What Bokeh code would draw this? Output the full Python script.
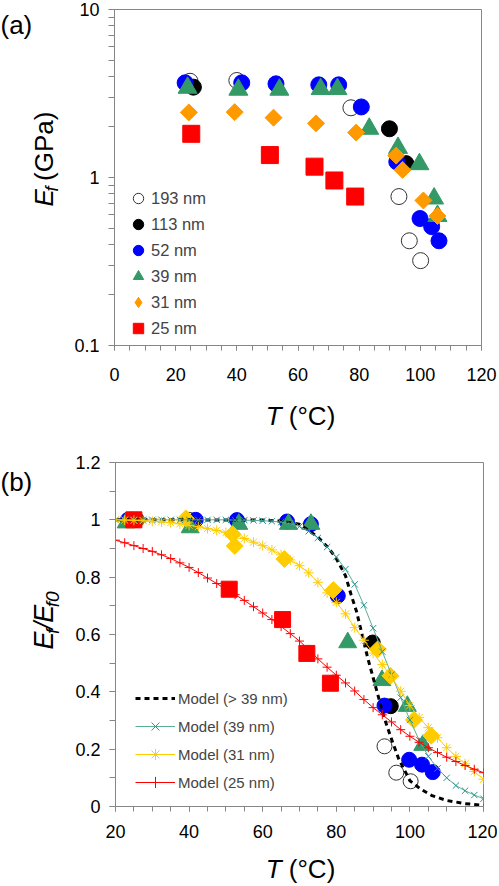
import math
from bokeh.plotting import figure
from bokeh.models import (Range1d, FixedTicker, CustomJSTickFormatter, Label,
                          Legend, LegendItem)
from bokeh.layouts import column, row
from bokeh.embed import file_html
from bokeh.resources import INLINE

# ---------------- data: panel (a) ----------------
series_labels = ["193 nm", "113 nm", "52 nm", "39 nm", "31 nm", "25 nm"]

T_193 = [24.7, 40.0, 77.3, 93.0, 96.4, 100.1]
E_193 = [3.74, 3.78, 2.60, 0.77, 0.42, 0.32]
T_113 = [25.8, 89.9, 95.3]
E_113 = [3.45, 1.95, 1.21]
T_52 = [23.1, 41.6, 52.8, 66.8, 73.3, 80.7, 92.3, 99.9, 103.7, 106.1]
E_52 = [3.66, 3.66, 3.61, 3.56, 3.56, 2.63, 1.24, 0.57, 0.51, 0.42]
T_39 = [23.9, 40.5, 53.9, 67.4, 72.9, 83.3, 92.7, 99.7, 104.5, 105.6]
E_39 = [3.42, 3.33, 3.33, 3.36, 3.36, 1.95, 1.50, 1.20, 0.75, 0.59]
T_31 = [24.3, 39.3, 52.0, 65.9, 79.0, 92.1, 94.2, 101.0, 105.6]
E_31 = [2.44, 2.45, 2.27, 2.10, 1.85, 1.35, 1.11, 0.73, 0.59]
T_25 = [25.1, 50.8, 65.4, 71.9, 78.7]
E_25 = [1.82, 1.36, 1.16, 0.96, 0.77]

# ---------------- data: panel (b) ----------------
Tb_193 = [24.7, 40.0, 93.1, 96.3, 100.2]
Rb_193 = [1.0, 1.0, 0.21, 0.118, 0.088]
Tb_113 = [25.8, 89.9, 94.8]
Rb_113 = [1.0, 0.572, 0.35]
Tb_52 = [23.4, 41.8, 53.0, 66.6, 73.1, 80.4, 93.1, 99.8, 103.3, 106.2]
Rb_52 = [1.0, 1.0, 0.999, 0.994, 0.985, 0.735, 0.352, 0.163, 0.146, 0.12]
Tb_39 = [22.9, 40.3, 53.5, 67.0, 73.1, 83.1, 92.4, 99.3, 103.5]
Rb_39 = [0.99, 0.973, 0.985, 0.985, 0.985, 0.572, 0.44, 0.35, 0.214]
Tb_31 = [24.3, 39.1, 51.8, 52.4, 65.9, 79.2, 91.3, 94.7, 101.1, 105.8]
Rb_31 = [1.0, 1.005, 0.95, 0.909, 0.863, 0.755, 0.549, 0.456, 0.302, 0.247]
Tb_25 = [25.0, 50.9, 65.4, 72.0, 78.4]
Rb_25 = [1.0, 0.758, 0.652, 0.534, 0.43]

model_labels = ["Model (> 39 nm)", "Model (39 nm)", "Model (31 nm)", "Model (25 nm)"]

T_dash = [20, 40, 60, 65, 70, 75, 78, 80, 82.5, 84, 85.5, 87, 88.5, 90, 91.5,
          93, 95, 97, 100, 103, 106, 110, 115, 120]
model_gt39 = [1.0, 1.0, 0.999, 0.995, 0.985, 0.94, 0.90, 0.865, 0.805, 0.74,
              0.68, 0.60, 0.52, 0.45, 0.38, 0.31, 0.235, 0.165, 0.09, 0.06,
              0.038, 0.021, 0.01, 0.004]

T_model = [20, 22.5, 25, 27.5, 30, 32.5, 35, 37.5, 40, 42.5, 45, 47.5, 50, 52.5,
           55, 57.5, 60, 62.5, 65, 67.5, 70, 72.5, 75, 77.5, 80, 82.5, 85, 87.5,
           90, 92.5, 95, 97.5, 100, 102.5, 105, 107.5, 110, 112.5, 115, 117.5, 120]
model_39 = [1.0, 1.0, 1.0, 1.0, 1.0, 1.0, 1.0, 1.0, 1.0, 1.0, 1.0, 1.0, 1.0, 0.999,
            0.999, 0.998, 0.997, 0.995, 0.992, 0.986, 0.977, 0.96, 0.937, 0.905,
            0.87, 0.828, 0.775, 0.702, 0.622, 0.54, 0.46, 0.38, 0.302, 0.232,
            0.175, 0.133, 0.1, 0.073, 0.055, 0.04, 0.027]
model_31 = [1.0, 0.999, 0.998, 0.997, 0.995, 0.993, 0.99, 0.986, 0.981, 0.976,
            0.97, 0.963, 0.955, 0.946, 0.935, 0.922, 0.91, 0.895, 0.878, 0.86,
            0.84, 0.815, 0.782, 0.745, 0.712, 0.672, 0.624, 0.58, 0.535, 0.495,
            0.452, 0.402, 0.352, 0.31, 0.275, 0.24, 0.205, 0.175, 0.149, 0.122,
            0.095]
model_25 = [0.929, 0.92, 0.91, 0.9, 0.89, 0.878, 0.865, 0.85, 0.834, 0.816,
            0.797, 0.778, 0.758, 0.739, 0.719, 0.697, 0.675, 0.652, 0.628, 0.603,
            0.577, 0.548, 0.515, 0.486, 0.458, 0.431, 0.403, 0.373, 0.345, 0.32,
            0.295, 0.268, 0.245, 0.224, 0.205, 0.188, 0.172, 0.157, 0.143, 0.13,
            0.118]

# ---------------- ticks ----------------
xa_ticks = [0, 20, 40, 60, 80, 100, 120]
xa_labels = ["0", "20", "40", "60", "80", "100", "120"]
xa_minor = [0, 5, 10, 15, 20, 25, 30, 35, 40, 45, 50, 55, 60, 65, 70, 75, 80,
            85, 90, 95, 100, 105, 110, 115, 120]
ya_ticks = [0.1, 1, 10]
ya_labels = ["0.1", "1", "10"]
ya_minor = [0.2, 0.3, 0.4, 0.5, 0.6, 0.7, 0.8, 0.9, 2, 3, 4, 5, 6, 7, 8, 9]
xb_ticks = [20, 40, 60, 80, 100, 120]
xb_labels = ["20", "40", "60", "80", "100", "120"]
xb_minor = [20, 25, 30, 35, 40, 45, 50, 55, 60, 65, 70, 75, 80, 85, 90, 95,
            100, 105, 110, 115, 120]
yb_ticks = [0, 0.2, 0.4, 0.6, 0.8, 1.0, 1.2]
yb_labels = ["0", "0.2", "0.4", "0.6", "0.8", "1", "1.2"]
yb_minor = [0, 0.1, 0.2, 0.3, 0.4, 0.5, 0.6, 0.7, 0.8, 0.9, 1.0, 1.1, 1.2]

FONT = "Liberation Sans"
AX = "#868686"
C_OPEN = "#333333"
C_BLACK = "#000000"
C_BLUE = "#0000FF"
C_GREEN = "#339966"
C_ORANGE = "#FF9900"
C_GOLD = "#FFCC00"
C_RED = "#FF0000"
C_TEAL_LINE = "#5aae92"
C_TEAL_MARK = "#2a9595"

W_TOTAL = 497
W_LEFT = 66


def fmt(vals, texts):
    return CustomJSTickFormatter(args=dict(tv=vals, tt=texts), code="""
const i = tv.findIndex(t => Math.abs(t - tick) <= 1e-9 * Math.max(1, Math.abs(t)));
return i >= 0 ? tt[i] : "";
""")


def style_axes(p, xt, xl, xm, yt, yl, ym, xstand, ystand):
    p.title.visible = False
    p.grid.grid_line_color = None
    p.outline_line_color = AX
    p.outline_line_width = 1
    for ax in (p.xaxis[0], p.yaxis[0]):
        ax.axis_line_color = AX
        ax.major_tick_line_color = AX
        ax.minor_tick_line_color = AX
        ax.major_tick_in = 0
        ax.minor_tick_in = 0
        ax.major_label_text_font = FONT
        ax.major_label_text_font_size = "18px"
        ax.major_label_text_color = "black"
    p.xaxis[0].ticker = FixedTicker(ticks=xt, minor_ticks=xm)
    p.xaxis[0].formatter = fmt(xt, xl)
    p.xaxis[0].major_tick_out = 5
    p.xaxis[0].minor_tick_out = 5
    p.xaxis[0].major_label_standoff = xstand
    p.yaxis[0].ticker = FixedTicker(ticks=yt, minor_ticks=ym)
    p.yaxis[0].formatter = fmt(yt, yl)
    p.yaxis[0].major_tick_out = 6
    p.yaxis[0].minor_tick_out = 6
    p.yaxis[0].major_label_standoff = ystand


def text_fig(w, h):
    f = figure(width=w, height=h, x_range=Range1d(0, w), y_range=Range1d(0, h),
               x_axis_location=None, y_axis_location=None,
               output_backend="svg", toolbar_location=None, min_border=0)
    f.title.visible = False
    f.outline_line_color = None
    f.grid.visible = False
    return f


def lab(p, x, y, text, size, italic=False, angle=0.0, baseline="middle"):
    p.add_layout(Label(x=x, y=y, text=text, angle=angle, text_font=FONT,
                       text_font_size=size,
                       text_font_style="italic" if italic else "normal",
                       text_color="black", text_align="left",
                       text_baseline=baseline))


# ================= panel (a) =================
HA = 389
pa = figure(width=W_TOTAL - W_LEFT, height=HA, x_range=Range1d(0, 120),
            y_range=Range1d(0.1, 10), y_axis_type="log",
            output_backend="svg", toolbar_location=None,
            min_border_left=114 - W_LEFT, min_border_right=16,
            min_border_top=9, min_border_bottom=44)
style_axes(pa, xa_ticks, xa_labels, xa_minor, ya_ticks, ya_labels, ya_minor, 17, 9)

ra = []
ra.append(pa.scatter(T_193, E_193, marker="circle", size=16, fill_color="white",
                     line_color=C_OPEN, line_width=1))
ra.append(pa.scatter(T_113, E_113, marker="circle", size=16, fill_color=C_BLACK,
                     line_color=C_BLACK))
ra.append(pa.scatter(T_52, E_52, marker="circle", size=16, fill_color=C_BLUE,
                     line_color=C_BLUE))
ra.append(pa.scatter(T_39, E_39, marker="triangle", size=19, fill_color=C_GREEN,
                     line_color=C_GREEN))
ra.append(pa.scatter(T_31, E_31, marker="square", size=12, angle=math.pi / 4,
                     fill_color=C_ORANGE, line_color=C_ORANGE))
ra.append(pa.scatter(T_25, E_25, marker="square", size=17, fill_color=C_RED,
                     line_color=C_RED))
# legend swatch for the rotated squares (legend glyphs ignore the angle)
diamond_key = pa.scatter([float("nan")], [float("nan")], marker="diamond", size=16,
                         fill_color=C_ORANGE, line_color=C_ORANGE)
leg_renderers = ra[:4] + [diamond_key, ra[5]]

leg_a = Legend(items=[LegendItem(label=l, renderers=[r])
                      for l, r in zip(series_labels, leg_renderers)],
               location=(11, 4), orientation="vertical", glyph_width=26,
               glyph_height=26, label_height=26, spacing=0, padding=0, margin=0,
               label_standoff=0, border_line_alpha=0, background_fill_alpha=0,
               label_text_font=FONT, label_text_font_size="16.5px",
               label_text_baseline="middle")
pa.add_layout(leg_a)

ya_fig = text_fig(W_LEFT, HA)
lab(ya_fig, 0, HA, "(a)", "26px", baseline="top")
lab(ya_fig, 43, 161, "E", "26px", italic=True, angle=math.pi / 2)
lab(ya_fig, 51.6, 178.3, "f", "18px", italic=True, angle=math.pi / 2)
lab(ya_fig, 43, 190.5, "(GPa)", "26px", angle=math.pi / 2)

xa_fig = text_fig(W_TOTAL, 56)
lab(xa_fig, 265.2, 30, "T", "26px", italic=True)
lab(xa_fig, 288.3, 30, "(°C)", "26px")

# ================= panel (b) =================
HB = 397
pb = figure(width=W_TOTAL - W_LEFT, height=HB, x_range=Range1d(20, 120),
            y_range=Range1d(0, 1.2), output_backend="svg",
            toolbar_location=None,
            min_border_left=115 - W_LEFT, min_border_right=14,
            min_border_top=17, min_border_bottom=36)
style_axes(pb, xb_ticks, xb_labels, xb_minor, yb_ticks, yb_labels, yb_minor, 13, 9)

pb.scatter(Tb_193, Rb_193, marker="circle", size=15, fill_color="white",
           line_color=C_OPEN, line_width=1)
pb.scatter(Tb_113, Rb_113, marker="circle", size=15, fill_color=C_BLACK,
           line_color=C_BLACK)
pb.scatter(Tb_52, Rb_52, marker="circle", size=15, fill_color=C_BLUE,
           line_color=C_BLUE)
pb.scatter(Tb_39, Rb_39, marker="triangle", size=18, fill_color=C_GREEN,
           line_color=C_GREEN)
pb.scatter(Tb_31, Rb_31, marker="square", size=12, angle=math.pi / 4,
           fill_color=C_GOLD, line_color=C_GOLD)
pb.scatter(Tb_25, Rb_25, marker="square", size=16, fill_color=C_RED,
           line_color=C_RED)

l0 = pb.line(T_dash, model_gt39, line_color="black", line_width=3, line_dash="5 4")
l1 = pb.line(T_model, model_39, line_color=C_TEAL_LINE, line_width=1)
m1 = pb.scatter(T_model, model_39, marker="x", size=9, line_color=C_TEAL_MARK,
                line_width=1)
l2 = pb.line(T_model, model_31, line_color=C_GOLD, line_width=1)
m2 = pb.scatter(T_model, model_31, marker="asterisk", size=10, line_color=C_GOLD,
                line_width=1)
l3 = pb.line(T_model, model_25, line_color=C_RED, line_width=1)
m3 = pb.scatter(T_model, model_25, marker="cross", size=9, line_color=C_RED,
                line_width=1)

leg_b = Legend(items=[LegendItem(label=model_labels[0], renderers=[l0]),
                      LegendItem(label=model_labels[1], renderers=[l1, m1]),
                      LegendItem(label=model_labels[2], renderers=[l2, m2]),
                      LegendItem(label=model_labels[3], renderers=[l3, m3])],
               location=(20, 10), orientation="vertical", glyph_width=40,
               glyph_height=28, label_height=28, spacing=0, padding=0, margin=0,
               label_standoff=3, border_line_alpha=0, background_fill_alpha=0,
               label_text_font=FONT, label_text_font_size="15px",
               label_text_baseline="middle")
pb.add_layout(leg_b)

yb_fig = text_fig(W_LEFT, HB)
lab(yb_fig, 0, HB - 5, "(b)", "26px", baseline="top")
lab(yb_fig, 43, 181.2, "E", "27px", italic=True, angle=math.pi / 2)
lab(yb_fig, 51.8, 199.2, "f", "19px", italic=True, angle=math.pi / 2)
lab(yb_fig, 43, 204.5, "/", "27px", italic=True, angle=math.pi / 2)
lab(yb_fig, 43, 212.0, "E", "27px", italic=True, angle=math.pi / 2)
lab(yb_fig, 51.8, 230.0, "f0", "19px", italic=True, angle=math.pi / 2)

xb_fig = text_fig(W_TOTAL, 42)
lab(xb_fig, 265.2, 16, "T", "26px", italic=True)
lab(xb_fig, 288.3, 16, "(°C)", "26px")

layout = column(row(ya_fig, pa, spacing=0), xa_fig,
                row(yb_fig, pb, spacing=0), xb_fig, spacing=0)
open("out.html", "w").write(file_html(layout, INLINE))
